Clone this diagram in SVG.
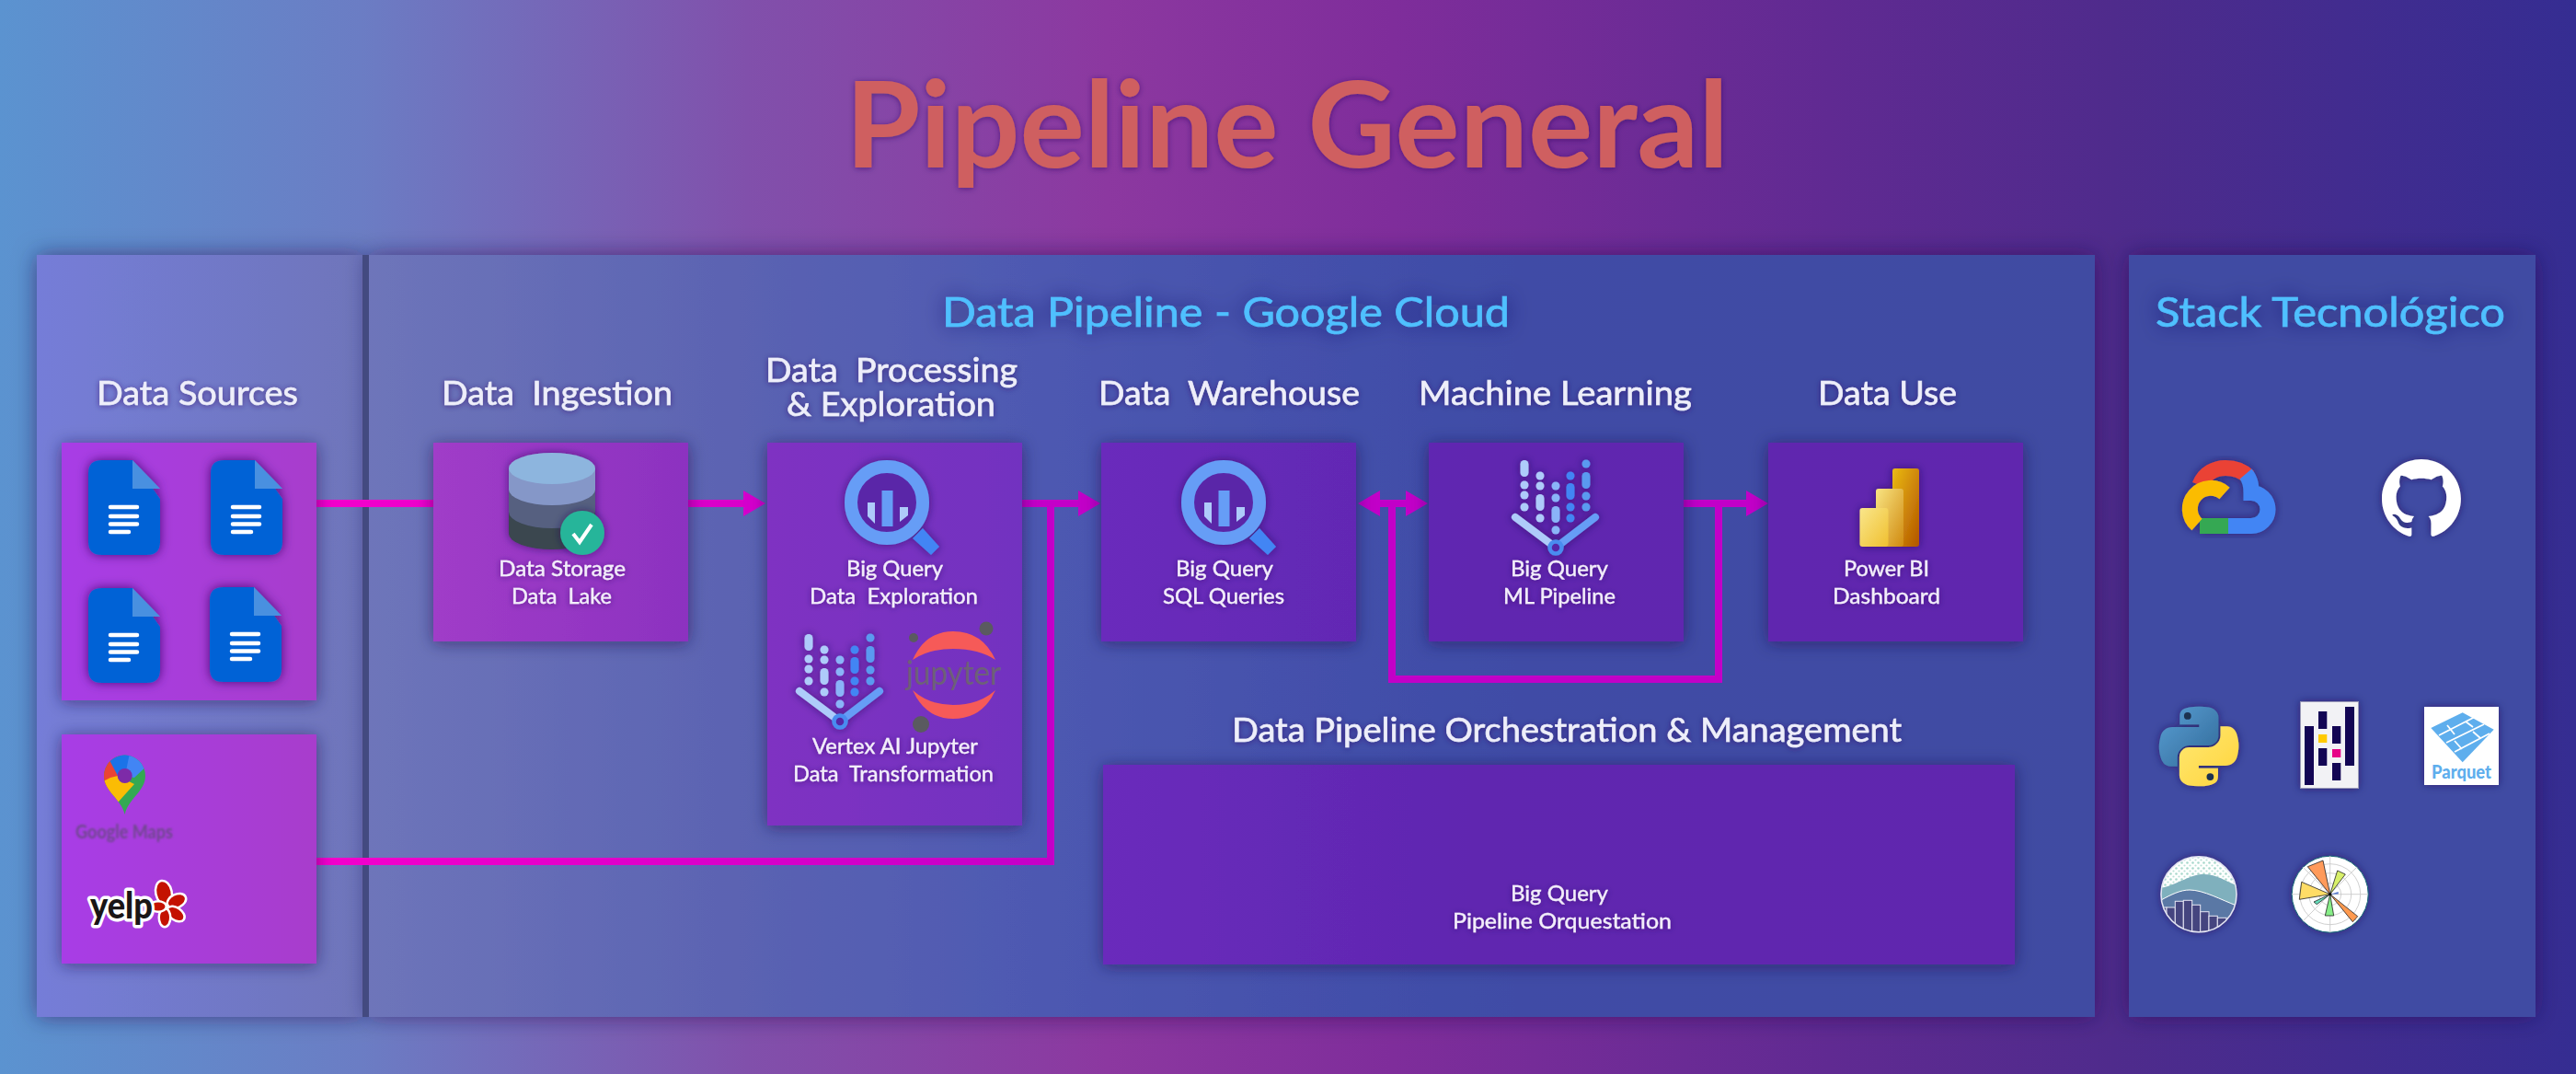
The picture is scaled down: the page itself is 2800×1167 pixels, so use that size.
<svg xmlns="http://www.w3.org/2000/svg" xmlns:xlink="http://www.w3.org/1999/xlink" width="2800" height="1167" viewBox="0 0 2800 1167">
<style>
text{font-family:"Lato","Open Sans","Liberation Sans",sans-serif;white-space:pre}
.title{font-size:130px;font-weight:700;fill:#cf5f60;filter:url(#ts)}
.head{font-size:45px;font-weight:400;fill:#4fc0ff;stroke:#4fc0ff;stroke-width:.7px;filter:url(#tg)}
.sec{font-size:37px;font-weight:400;fill:#eeeefa;stroke:#eeeefa;stroke-width:.6px;filter:url(#ts)}
.lbl{font-size:23.500px;font-weight:400;fill:#f3eefb;stroke:#f3eefb;stroke-width:.35px;filter:url(#ts)}
.conn{fill:none;stroke:url(#cg);stroke-width:8}
.lat{fill:none;stroke:#c200c8;stroke-width:8}
.box{fill:url(#boxg);filter:url(#bs)}
.ic{filter:url(#is)}
</style>
<defs>
<linearGradient id="bg" gradientUnits="userSpaceOnUse" x1="0" y1="0" x2="2800" y2="0">
<stop offset="0" stop-color="#5b93d0"/><stop offset=".14" stop-color="#6b7dc4"/><stop offset=".29" stop-color="#8150ab"/><stop offset=".43" stop-color="#8c38a0"/><stop offset=".54" stop-color="#7f2d9b"/><stop offset=".71" stop-color="#602a92"/><stop offset=".82" stop-color="#4f2b8c"/><stop offset="1" stop-color="#352d92"/>
</linearGradient>
<linearGradient id="pg" gradientUnits="userSpaceOnUse" x1="40" y1="0" x2="2277" y2="0">
<stop offset="0" stop-color="#757dd8"/><stop offset=".16" stop-color="#6e75ba"/><stop offset=".34" stop-color="#5b63b2"/><stop offset=".47" stop-color="#4f5ab2"/><stop offset=".6" stop-color="#4551ac"/><stop offset=".72" stop-color="#3f4ca6"/><stop offset="1" stop-color="#404ca2"/>
</linearGradient>
<linearGradient id="boxg" gradientUnits="userSpaceOnUse" x1="67" y1="0" x2="2199" y2="0">
<stop offset="0" stop-color="#a83ee6"/><stop offset=".13" stop-color="#a83ccc"/><stop offset=".19" stop-color="#a03cc8"/><stop offset=".32" stop-color="#8c32c0"/><stop offset=".36" stop-color="#7f32c2"/><stop offset=".49" stop-color="#7230c0"/><stop offset=".53" stop-color="#6a2cbc"/><stop offset=".66" stop-color="#6228b4"/><stop offset=".72" stop-color="#6028b0"/><stop offset="1" stop-color="#6028ae"/>
</linearGradient>
<linearGradient id="cg" gradientUnits="userSpaceOnUse" x1="344" y1="0" x2="1142" y2="0">
<stop offset="0" stop-color="#f400cc"/><stop offset="1" stop-color="#c400c8"/>
</linearGradient>
<linearGradient id="pb1" x1="0" y1="0" x2="1" y2="1"><stop offset="0" stop-color="#ebbb14"/><stop offset="1" stop-color="#b25400"/></linearGradient>
<linearGradient id="pb2" x1="0" y1="0" x2="1" y2="1"><stop offset="0" stop-color="#f9e583"/><stop offset="1" stop-color="#d08a10"/></linearGradient>
<linearGradient id="pb3" x1="0" y1="0" x2="1" y2="1"><stop offset="0" stop-color="#f9e68b"/><stop offset="1" stop-color="#f0c030"/></linearGradient>
<linearGradient id="pyb" x1="0" y1="0" x2="1" y2="1"><stop offset="0" stop-color="#5a9fd4"/><stop offset="1" stop-color="#306998"/></linearGradient>
<linearGradient id="pyy" x1="0" y1="0" x2="1" y2="1"><stop offset="0" stop-color="#ffd43b"/><stop offset="1" stop-color="#ffe873"/></linearGradient>
<filter id="bs" x="-20%" y="-20%" width="140%" height="140%"><feDropShadow dx="0" dy="2" stdDeviation="9" flood-color="#1c1248" flood-opacity=".55"/></filter>
<filter id="ps" x="-10%" y="-10%" width="120%" height="120%"><feDropShadow dx="0" dy="0" stdDeviation="12" flood-color="#1c1248" flood-opacity=".55"/></filter>
<filter id="ts" x="-10%" y="-30%" width="120%" height="160%"><feDropShadow dx="0" dy="1" stdDeviation="3" flood-color="#2a1060" flood-opacity=".6"/></filter>
<filter id="tg" x="-10%" y="-60%" width="120%" height="220%"><feDropShadow dx="0" dy="0" stdDeviation="11" flood-color="#1e1a60" flood-opacity=".7"/></filter>
<filter id="is" x="-20%" y="-20%" width="140%" height="140%"><feDropShadow dx="0" dy="0" stdDeviation="5" flood-color="#1c1050" flood-opacity=".6"/></filter>
<filter id="ds" x="-30%" y="-30%" width="160%" height="160%"><feDropShadow dx="0" dy="0" stdDeviation="6" flood-color="#3a1068" flood-opacity=".85"/></filter>
<filter id="bl"><feGaussianBlur stdDeviation=".9"/></filter>
<marker id="ah" markerUnits="userSpaceOnUse" viewBox="0 0 24 28" refX="1" refY="14" markerWidth="24" markerHeight="28" orient="auto"><polygon points="0,0 24,14 0,28" fill="#d400cc"/></marker>
<marker id="as" markerUnits="userSpaceOnUse" viewBox="0 0 24 28" refX="1" refY="14" markerWidth="24" markerHeight="28" orient="auto"><polygon points="0,0 24,14 0,28" fill="#c200c8"/></marker>
<clipPath id="pinc"><path d="M135.700 885C132 868 113 860 113 843A22.500 22.500 0 0 1 158 843C158 860 139 868 135.700 885Z"/></clipPath>
<clipPath id="sbc"><circle cx="2390" cy="971.700" r="41"/></clipPath>
<pattern id="dots" patternUnits="userSpaceOnUse" width="6" height="6"><circle cx="1.500" cy="1.500" r="1.300" fill="#a8d8cc"/><circle cx="4.500" cy="4.500" r="1.100" fill="#b8e0d6"/></pattern>
<g id="doc" filter="url(#ds)">
<path d="M14 0H48L78 42V89Q78 103 64 103H14Q0 103 0 89V14Q0 0 14 0Z" fill="#0662d6"/>
<path d="M48 0L78 31H48Z" fill="#4a90e0"/>
<g stroke="#fff" stroke-width="4.500" stroke-linecap="round"><path d="M24 51H53M24 61H53M24 69.500H53M24 78H44"/></g>
</g>
<g id="bq" class="ic">
<circle cx="0" cy="0" r="39" fill="#5a28a8" stroke="#669df6" stroke-width="14"/>
<polygon points="28,39 39,28 57,48 48,57" fill="#4285f4"/>
<polygon points="-21,0 -13,0 -13,23 -21,15" fill="#aecbfa"/>
<rect x="-5.500" y="-13" width="12" height="39" fill="#669df6"/>
<polygon points="14,5 23,5 23,14 14,21" fill="#aecbfa"/>
</g>
<g id="vx" class="ic">
<path d="M-44 -33L0 0" stroke="#aecbfa" stroke-width="8" stroke-linecap="round"/>
<path d="M43 -33L0 0" stroke="#669df6" stroke-width="8" stroke-linecap="round"/>
<g fill="#aecbfa">
<rect x="-38.500" y="-95" width="9" height="18" rx="4.500"/><circle cx="-34" cy="-68" r="4.500"/><circle cx="-34" cy="-57" r="4.500"/><circle cx="-34" cy="-44" r="4.500"/>
<circle cx="-17" cy="-78" r="4.500"/><circle cx="-17" cy="-67" r="4.500"/><rect x="-21.500" y="-58" width="9" height="18" rx="4.500"/><circle cx="-17" cy="-32" r="4.500"/>
</g>
<g fill="#8ab4f8"><circle cx="0" cy="-67" r="4.500"/><circle cx="0" cy="-54" r="4.500"/><rect x="-4.500" y="-45" width="9" height="18" rx="4.500"/><circle cx="0" cy="-19" r="4.500"/></g>
<g fill="#4285f4"><circle cx="16" cy="-78" r="4.500"/><rect x="11.500" y="-70" width="9" height="18" rx="4.500"/><circle cx="16" cy="-44" r="4.500"/><circle cx="16" cy="-32" r="4.500"/></g>
<g fill="#5a9af0"><circle cx="33" cy="-91" r="4.500"/><rect x="28.500" y="-82" width="9" height="18" rx="4.500"/><circle cx="33" cy="-56" r="4.500"/><circle cx="33" cy="-44" r="4.500"/></g>
<circle cx="0" cy="0" r="6.500" fill="#5528a8" stroke="#4a8cf0" stroke-width="4.500"/>
</g>
</defs>

<rect width="2800" height="1167" fill="url(#bg)"/>

<text class="title" x="919" y="182" textLength="960" lengthAdjust="spacingAndGlyphs">Pipeline General</text>

<g id="panels">
<rect x="40" y="277" width="354" height="828" fill="url(#pg)" filter="url(#ps)"/>
<rect x="401" y="277" width="1876" height="828" fill="url(#pg)" filter="url(#ps)"/>
<rect x="2314" y="277" width="442" height="828" fill="#414ca3" filter="url(#ps)"/>
<rect x="394" y="277" width="7" height="828" fill="#434a80"/>
</g>

<text class="head" x="1024" y="355" textLength="617" lengthAdjust="spacingAndGlyphs">Data Pipeline - Google Cloud</text>
<text class="head" x="2343" y="355" textLength="380" lengthAdjust="spacingAndGlyphs">Stack Tecnológico</text>
<text class="sec" x="105" y="440" textLength="219" lengthAdjust="spacingAndGlyphs">Data Sources</text>
<text class="sec" x="480" y="440" textLength="251" lengthAdjust="spacingAndGlyphs">Data  Ingestion</text>
<text class="sec" x="832" y="415" textLength="274" lengthAdjust="spacingAndGlyphs">Data  Processing</text>
<text class="sec" x="855" y="452" textLength="227" lengthAdjust="spacingAndGlyphs">&amp; Exploration</text>
<text class="sec" x="1194" y="440" textLength="284" lengthAdjust="spacingAndGlyphs">Data  Warehouse</text>
<text class="sec" x="1542" y="440" textLength="297" lengthAdjust="spacingAndGlyphs">Machine Learning</text>
<text class="sec" x="1976" y="440" textLength="151" lengthAdjust="spacingAndGlyphs">Data Use</text>
<text class="sec" x="1339" y="806" textLength="728" lengthAdjust="spacingAndGlyphs">Data Pipeline Orchestration &amp; Management</text>

<g id="connectors">
<path class="conn" d="M344 547H471"/>
<path class="conn" d="M748 547H809" marker-end="url(#ah)"/>
<path class="conn" d="M344 936H1142V547"/>
<path class="conn" d="M1111 547H1173" marker-end="url(#as)"/>
<path class="lat" d="M1513 547H1499" marker-end="url(#as)"/>
<path class="lat" d="M1513 547H1529" marker-end="url(#as)"/>
<path class="lat" d="M1830 547H1899" marker-end="url(#as)"/>
<path class="lat" d="M1868 547V738H1513V547"/>
</g>

<g id="node-files">
<rect class="box" x="67" y="481" width="277" height="280"/>
<use xlink:href="#doc" href="#doc" x="96" y="500"/>
<use xlink:href="#doc" href="#doc" x="229" y="500"/>
<use xlink:href="#doc" href="#doc" x="96" y="639"/>
<use xlink:href="#doc" href="#doc" x="228" y="638"/>
</g>

<g id="node-apis">
<rect class="box" x="67" y="798" width="277" height="249"/>
<g clip-path="url(#pinc)">
<rect x="110" y="818" width="52" height="70" fill="#34a853"/>
<polygon points="110,818 130,818 136,843 120,860 110,850" fill="#ea4335"/>
<polygon points="110,850 120,845 128,843 146,852 128,872 122,866" fill="#fbbc04"/>
<polygon points="119,826 130,818 146,818 136,843 128,843" fill="#1a73e8"/>
<polygon points="141,818 160,824 160,832 146,845 136,843" fill="#4285f4"/>
</g>
<circle cx="135.700" cy="843" r="8" fill="#7d2ba8"/>
<text x="82" y="911" textLength="106" lengthAdjust="spacingAndGlyphs" style="font-size:21px;font-weight:700;fill:#70478f;filter:url(#bl)">Google Maps</text>
<g stroke="#fff" stroke-width="5" fill="#c41200" style="paint-order:stroke">
<ellipse cx="178" cy="970" rx="7.500" ry="12" transform="rotate(-12 178 970)"/>
<ellipse cx="192" cy="979" rx="9.500" ry="6" transform="rotate(-25 192 979)"/>
<ellipse cx="191" cy="993" rx="9.500" ry="5.500" transform="rotate(35 191 993)"/>
<ellipse cx="179" cy="997" rx="5" ry="9"/>
<ellipse cx="172" cy="985" rx="7.500" ry="4.500"/>
</g>
<text x="98" y="998" textLength="68" lengthAdjust="spacingAndGlyphs" style="font-size:40px;font-weight:900;fill:#1a1516;stroke:#fff;stroke-width:7px;stroke-linejoin:round;paint-order:stroke">yelp</text>
</g>

<g id="node-storage">
<rect class="box" x="471" y="481" width="277" height="216"/>
<g class="ic">
<path d="M553 509V580A47 17 0 0 0 647 580V509Z" fill="#3a4650"/>
<path d="M553 509V556A47 18 0 0 0 647 556V509Z" fill="#566080"/>
<path d="M553 509V532A47 17 0 0 0 647 532V509Z" fill="#8597c8"/>
<ellipse cx="600" cy="509" rx="47" ry="17" fill="#8db5de"/>
</g>
<g class="ic"><ellipse cx="633" cy="579" rx="24" ry="24" fill="#27b59a"/><path d="M623 580L630 589L643 570" fill="none" stroke="#fff" stroke-width="4"/></g>
<text class="lbl" x="542" y="626" textLength="138" lengthAdjust="spacingAndGlyphs">Data Storage</text>
<text class="lbl" x="556" y="656" textLength="109" lengthAdjust="spacingAndGlyphs">Data  Lake</text>
</g>

<g id="node-processing">
<rect class="box" x="834" y="481" width="277" height="416"/>
<use xlink:href="#bq" href="#bq" x="964" y="546"/>
<text class="lbl" x="920" y="626" textLength="105" lengthAdjust="spacingAndGlyphs">Big Query</text>
<text class="lbl" x="880" y="656" textLength="183" lengthAdjust="spacingAndGlyphs">Data  Exploration</text>
<use xlink:href="#vx" href="#vx" x="913" y="784"/>
<g>
<path d="M992 717Q1006 686 1036 686Q1068 686 1082 717Q1064 705 1036 705Q1010 705 992 717Z" fill="#f65a58"/>
<path d="M992 750Q1010 766 1036 766Q1064 766 1082 750Q1068 781 1036 781Q1006 781 992 750Z" fill="#f65a58"/>
<circle cx="1072" cy="683" r="7.500" fill="#5a5a60"/><circle cx="993" cy="693" r="5" fill="#5a5a60"/><ellipse cx="1001" cy="787" rx="9" ry="9" fill="#5a5a60"/>
<text x="985" y="744" textLength="103" lengthAdjust="spacingAndGlyphs" style="font-size:36px;fill:#6d6078">jupyter</text>
</g>
<text class="lbl" x="883" y="819" textLength="180" lengthAdjust="spacingAndGlyphs">Vertex AI Jupyter</text>
<text class="lbl" x="862" y="849" textLength="218" lengthAdjust="spacingAndGlyphs">Data  Transformation</text>
</g>

<g id="node-warehouse">
<rect class="box" x="1197" y="481" width="277" height="216"/>
<use xlink:href="#bq" href="#bq" x="1330" y="546"/>
<text class="lbl" x="1278" y="626" textLength="106" lengthAdjust="spacingAndGlyphs">Big Query</text>
<text class="lbl" x="1264" y="656" textLength="132" lengthAdjust="spacingAndGlyphs">SQL Queries</text>
</g>

<g id="node-ml">
<rect class="box" x="1553" y="481" width="277" height="216"/>
<use xlink:href="#vx" href="#vx" x="1691" y="595"/>
<text class="lbl" x="1642" y="626" textLength="106" lengthAdjust="spacingAndGlyphs">Big Query</text>
<text class="lbl" x="1634" y="656" textLength="122" lengthAdjust="spacingAndGlyphs">ML Pipeline</text>
</g>

<g id="node-use">
<rect class="box" x="1922" y="481" width="277" height="216"/>
<g class="ic">
<rect x="2057" y="509" width="29" height="85" rx="3" fill="url(#pb1)"/>
<rect x="2039" y="531" width="30" height="63" rx="3" fill="url(#pb2)"/>
<rect x="2021.500" y="552" width="31" height="42" rx="3" fill="url(#pb3)"/>
</g>
<text class="lbl" x="2004" y="626" textLength="93" lengthAdjust="spacingAndGlyphs">Power BI</text>
<text class="lbl" x="1992" y="656" textLength="117" lengthAdjust="spacingAndGlyphs">Dashboard</text>
</g>

<g id="node-orchestration">
<rect class="box" x="1199" y="831" width="991" height="217"/>
<text class="lbl" x="1642" y="979" textLength="106" lengthAdjust="spacingAndGlyphs">Big Query</text>
<text class="lbl" x="1579" y="1009" textLength="238" lengthAdjust="spacingAndGlyphs">Pipeline Orquestation</text>
</g>

<g id="node-gcp" class="ic" fill="none" stroke-width="17">
<path d="M2391 527C2396 514 2408 508.500 2419 508.500C2430 508.500 2438 512 2444 518" stroke="#ea4335"/>
<path d="M2441 515C2447 522 2447 530 2447 535.500A18 18 0 0 1 2447 571.500H2421" stroke="#4285f4"/>
<path d="M2422 571.500H2391" stroke="#34a853"/>
<path d="M2418 536A21 21 0 1 0 2388 570" stroke="#fbbc04"/>
</g>

<g id="node-github" class="ic">
<path transform="translate(2589 498) scale(3.580)" fill="#fff" d="M12 .297c-6.630 0-12 5.373-12 12 0 5.303 3.438 9.800 8.205 11.385.600.113.820-.258.820-.577 0-.285-.010-1.040-.015-2.040-3.338.724-4.042-1.610-4.042-1.610C4.422 18.070 3.633 17.700 3.633 17.700c-1.087-.744.084-.729.084-.729 1.205.084 1.838 1.236 1.838 1.236 1.070 1.835 2.809 1.305 3.495.998.108-.776.417-1.305.760-1.605-2.665-.300-5.466-1.332-5.466-5.930 0-1.310.465-2.380 1.235-3.220-.135-.303-.540-1.523.105-3.176 0 0 1.005-.322 3.300 1.230.960-.267 1.980-.399 3-.405 1.020.006 2.040.138 3 .405 2.280-1.552 3.285-1.230 3.285-1.230.645 1.653.240 2.873.120 3.176.765.840 1.230 1.910 1.230 3.220 0 4.610-2.805 5.625-5.475 5.920.420.360.810 1.096.810 2.220 0 1.606-.015 2.896-.015 3.286 0 .315.210.690.825.570C20.565 22.092 24 17.592 24 12.297c0-6.627-5.373-12-12-12"/>
</g>

<g id="node-python" class="ic">
<g transform="translate(2347 767) scale(.78)">
<path fill="url(#pyb)" d="M54.900 .9C50.300 .9 46 1.300 42.100 2 30.700 4 28.600 8.200 28.600 15.900V26.100H55.600V29.500H18.500C10.600 29.500 3.800 34.200 1.700 43.200-.8 53.500-.9 59.900 1.700 70.600 3.600 78.600 8.200 84.200 16 84.200H25.300V71.900C25.300 63 33 55.200 42.100 55.200H69C76.500 55.200 82.500 49 82.500 41.500V15.900C82.500 8.600 76.300 3.100 69 1.900 64.400 1.100 59.500 .8 54.900 .9Z"/>
<path transform="rotate(180 55.300 56.400)" fill="url(#pyy)" d="M54.900 .9C50.300 .9 46 1.300 42.100 2 30.700 4 28.600 8.200 28.600 15.900V26.100H55.600V29.500H18.500C10.600 29.500 3.800 34.200 1.700 43.200-.8 53.500-.9 59.900 1.700 70.600 3.600 78.600 8.200 84.200 16 84.200H25.300V71.900C25.300 63 33 55.200 42.100 55.200H69C76.500 55.200 82.500 49 82.500 41.500V15.900C82.500 8.600 76.300 3.100 69 1.900 64.400 1.100 59.500 .8 54.900 .9Z"/>
<circle cx="39.500" cy="14" r="5" fill="#1f3050"/><circle cx="71" cy="98.800" r="5" fill="#1f3050"/>
</g>
</g>

<g id="node-pandas">
<rect x="2500.500" y="762.500" width="63" height="94" fill="#f2f2f5" stroke="#9a9ab8" filter="url(#is)"/>
<g fill="#130654">
<rect x="2505" y="789" width="10" height="64"/>
<rect x="2520" y="773" width="9.300" height="19"/><rect x="2520" y="813" width="9.300" height="19"/>
<rect x="2535" y="789" width="9.300" height="19"/><rect x="2535" y="829" width="9.300" height="19"/>
<rect x="2549" y="768" width="10" height="64"/>
</g>
<rect x="2520" y="798" width="9.300" height="9" fill="#ffca00"/>
<rect x="2535" y="814" width="9.300" height="9" fill="#e70488"/>
</g>

<g id="node-parquet">
<rect x="2635" y="768" width="81" height="85" fill="#fff" filter="url(#is)"/>
<polygon points="2676.700,774.300 2710.700,792.700 2676.700,828.300 2642.300,791" fill="#5eaeed"/>
<g stroke="#fff" stroke-width="1.800" fill="none">
<path d="M2651 799L2692 778M2659 807L2700 787M2668 817L2706 797M2660 788L2668 798M2680 784L2688 790M2668 805L2676 814M2688 795L2696 802"/>
</g>
<text x="2643" y="846" textLength="65" lengthAdjust="spacingAndGlyphs" style="font-size:21px;font-weight:900;fill:#5eaeed">Parquet</text>
</g>

<g id="node-seaborn" class="ic">
<circle cx="2390" cy="971.700" r="41" fill="#fff"/>
<g clip-path="url(#sbc)">
<rect x="2349" y="930" width="82" height="40" fill="url(#dots)"/>
<path d="M2349 965C2370 960 2380 950 2395 950C2410 950 2420 958 2431 962V1013H2349Z" fill="#7fb0bd"/>
<path d="M2349 978C2360 972 2370 967 2380 967C2395 967 2415 978 2431 984V1013H2349Z" fill="#5a78a5" stroke="#fff" stroke-width="1"/>
<g fill="#44447f" stroke="#e8e8f4" stroke-width="1">
<rect x="2345" y="986" width="10" height="30"/><rect x="2355" y="986" width="9.300" height="30"/><rect x="2364.300" y="979.300" width="9" height="36"/><rect x="2373.300" y="978.300" width="9.400" height="36"/><rect x="2382.700" y="983.300" width="9" height="36"/><rect x="2391.700" y="990.700" width="9.300" height="30"/><rect x="2401" y="995.300" width="9.300" height="30"/><rect x="2410.300" y="997.300" width="9.700" height="30"/>
</g>
</g>
<circle cx="2390" cy="971.700" r="41" fill="none" stroke="#e4e4f2" stroke-width="1.500"/>
</g>

<g id="node-matplotlib" class="ic">
<circle cx="2532.700" cy="971.700" r="41.500" fill="#fff" stroke="#1a6a78" stroke-width="1"/>
<g fill="none" stroke="#c4c4c4" stroke-width=".8"><circle cx="2532.700" cy="971.700" r="33"/><circle cx="2532.700" cy="971.700" r="23"/><circle cx="2532.700" cy="971.700" r="12"/><path d="M2491 971.700H2574M2532.700 930V1013M2503 942L2562 1001M2562 942L2503 1001"/></g>
<g stroke="#222" stroke-width=".8">
<polygon points="2532.700,971.700 2508.300,941.700 2525,935" fill="#ff9a5a"/>
<polygon points="2532.700,971.700 2540.700,946 2549.300,950" fill="#d8f06a"/>
<polygon points="2532.700,971.700 2501.700,958.300 2499.300,977.300" fill="#ffdc66"/>
<polygon points="2532.700,971.700 2515,980 2518.300,982.700" fill="#66ddbb"/>
<polygon points="2532.700,971.700 2527.300,995 2536.700,995" fill="#88ee88"/>
<polygon points="2532.700,971.700 2557.300,1001.700 2562.700,995.700" fill="#ff9a50"/>
<polygon points="2532.700,971.700 2541.700,969 2541.700,971.500" fill="#5577cc" stroke="none"/>
</g>
<circle cx="2532.700" cy="971.700" r="1.800" fill="#111"/>
</g>
</svg>
